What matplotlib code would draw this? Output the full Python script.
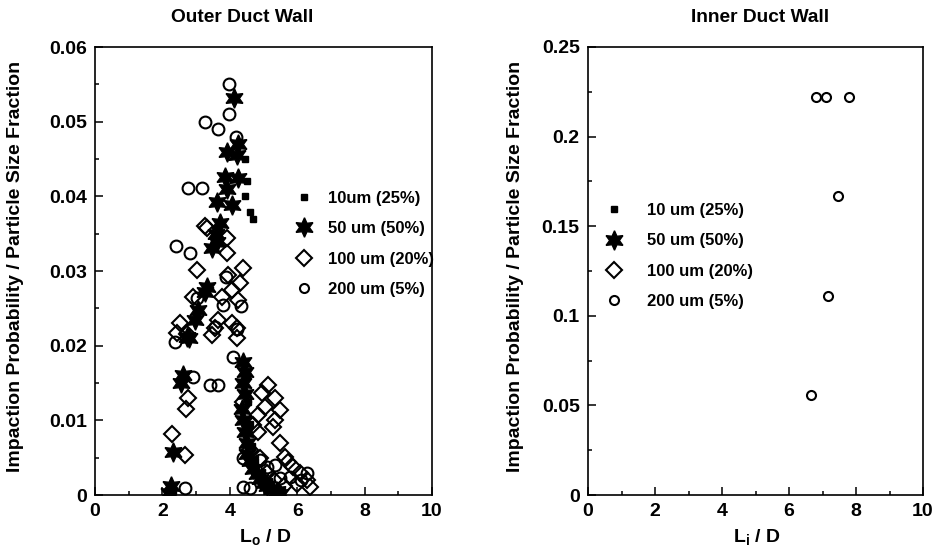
import matplotlib
matplotlib.use("Agg")
import matplotlib.pyplot as plt
from matplotlib.ticker import MultipleLocator
from matplotlib.lines import Line2D

plt.rcParams['font.family'] = ['Liberation Sans', 'DejaVu Sans']
plt.rcParams['font.weight'] = 'bold'
plt.rcParams['mathtext.fontset'] = 'custom'
plt.rcParams['mathtext.rm'] = 'Liberation Sans:bold'
plt.rcParams['mathtext.it'] = 'Liberation Sans:bold'
plt.rcParams['mathtext.bf'] = 'Liberation Sans:bold'

# ---------------- data: Outer duct wall ----------------
outer_10_x = [4.45, 4.50, 4.45, 4.60, 4.69, 4.50, 4.55, 4.60, 4.65, 4.75, 4.95, 5.15, 5.35, 5.55, 2.30]
outer_10_y = [0.0450, 0.0420, 0.0400, 0.0379, 0.0370, 0.0160, 0.0125, 0.0095, 0.0065, 0.0045,
              0.0030, 0.0018, 0.0010, 0.0005, 0.0005]

outer_50_x = [2.20, 2.25, 2.30, 2.55, 2.60, 2.73, 2.80, 2.97, 3.06, 3.26, 3.32, 3.47, 3.62, 3.60,
              3.71, 3.62, 3.92, 4.06, 3.86, 4.24, 3.92, 4.20, 4.25, 4.12,
              4.40, 4.45, 4.40, 4.45, 4.35, 4.40, 4.45, 4.50, 4.50, 4.60, 4.70, 4.80, 4.90,
              5.00, 5.10, 5.25, 5.40, 5.50]
outer_50_y = [0.0003, 0.0012, 0.0058, 0.0150, 0.0161, 0.0212, 0.0210, 0.0234, 0.0248, 0.0272,
              0.0279, 0.0331, 0.0339, 0.0350, 0.0364, 0.0392, 0.0410, 0.0388, 0.0426, 0.0425,
              0.0460, 0.0455, 0.0470, 0.0532,
              0.0178, 0.0165, 0.0150, 0.0135, 0.0115, 0.0100, 0.0085, 0.0070, 0.0055, 0.0045,
              0.0035, 0.0028, 0.0022, 0.0016, 0.0012, 0.0008, 0.0005, 0.0002]

outer_100_x = [2.28, 2.67, 2.70, 2.76, 2.43, 2.52, 2.73, 2.91, 3.03, 3.26, 3.32, 3.77, 3.65, 3.56,
               3.47, 3.92, 3.92, 3.95, 4.07, 4.07, 4.20, 4.20, 4.25, 4.30, 4.39,
               4.40, 4.70, 4.85, 4.85, 4.95, 5.04, 5.14, 5.29, 5.34, 5.34, 5.49, 5.49, 5.64,
               5.73, 5.88, 6.08, 6.29, 6.38, 4.60, 4.90, 5.10, 5.30, 5.60, 6.00]
outer_100_y = [0.0082, 0.0054, 0.0115, 0.0130, 0.0217, 0.0230, 0.0215, 0.0265, 0.0301, 0.0360,
               0.0357, 0.0265, 0.0234, 0.0224, 0.0214, 0.0344, 0.0324, 0.0295, 0.0275, 0.0230,
               0.0224, 0.0210, 0.0261, 0.0284, 0.0304,
               0.0125, 0.0094, 0.0107, 0.0084, 0.0137, 0.0118, 0.0147, 0.0091, 0.0130, 0.0100,
               0.0114, 0.0070, 0.0051, 0.0044, 0.0037, 0.0029, 0.0020, 0.0011, 0.0060, 0.0050,
               0.0030, 0.0020, 0.0012, 0.0015]

outer_200_x = [3.98, 3.98, 3.26, 3.65, 4.18, 2.76, 3.18, 2.40, 2.82, 3.90, 3.03, 3.80, 4.33, 3.56,
               4.20, 2.37, 4.10, 2.91, 3.41, 3.65, 4.40, 4.90, 5.10, 5.34, 5.49, 5.79, 6.29,
               4.40, 4.60, 2.67, 6.10]
outer_200_y = [0.0550, 0.0510, 0.0500, 0.0490, 0.0480, 0.0411, 0.0411, 0.0333, 0.0324, 0.0292,
               0.0264, 0.0254, 0.0253, 0.0225, 0.0222, 0.0205, 0.0185, 0.0158, 0.0147, 0.0147,
               0.0050, 0.0047, 0.0038, 0.0040, 0.0023, 0.0024, 0.0029, 0.0011, 0.0009, 0.0009,
               0.0020]

# ---------------- data: Inner duct wall ----------------
inner_200_x = [6.65, 7.15, 7.45, 6.80, 7.10, 7.78]
inner_200_y = [0.0556, 0.1111, 0.1667, 0.2222, 0.2222, 0.2222]

labels_left = ['10um (25%)', '50 um (50%)', '100 um (20%)', '200 um (5%)']
labels_right = ['10 um (25%)', '50 um (50%)', '100 um (20%)', '200 um (5%)']

STAR = (6, 1, 0)
sty10 = dict(marker='s', ms=4.5, color='black', ls='none')
sty50 = dict(marker=STAR, ms=14, color='black', ls='none')
sty100 = dict(marker='D', ms=8.5, mfc='none', mec='black', mew=1.5, ls='none')
sty200 = dict(marker='o', ms=8.5, mfc='none', mec='black', mew=1.5, ls='none')
sty200s = dict(marker='o', ms=6.5, mfc='none', mec='black', mew=1.5, ls='none')

fig = plt.figure(figsize=(9.38, 5.54), dpi=100)
W, H = 938, 554
axL = fig.add_axes([95 / W, (H - 495) / H, 337 / W, 448 / H])
axR = fig.add_axes([588 / W, (H - 495) / H, 335 / W, 448 / H])

axL.plot(outer_10_x, outer_10_y, **sty10)
axL.plot(outer_50_x, outer_50_y, **sty50)
axL.plot(outer_100_x, outer_100_y, **sty100)
axL.plot(outer_200_x, outer_200_y, **sty200)

axR.plot(inner_200_x, inner_200_y, **sty200s)

for ax, ymax, ymaj in ((axL, 0.06, 0.01), (axR, 0.25, 0.05)):
    ax.set_xlim(0, 10)
    ax.set_ylim(0, ymax)
    ax.xaxis.set_major_locator(MultipleLocator(2))
    ax.xaxis.set_minor_locator(MultipleLocator(1))
    ax.yaxis.set_major_locator(MultipleLocator(ymaj))
    ax.yaxis.set_minor_locator(MultipleLocator(ymaj / 2))
    ax.tick_params(which='both', direction='in', top=False, right=False, width=1.1)
    ax.tick_params(which='major', length=6, labelsize=14, pad=6)
    ax.tick_params(which='minor', length=3)
    for sp in ax.spines.values():
        sp.set_linewidth(1.2)
    for lab in ax.get_xticklabels() + ax.get_yticklabels():
        lab.set_fontweight('bold')

axL.yaxis.set_major_formatter(plt.FuncFormatter(lambda v, p: '0' if abs(v) < 1e-12 else f'{v:.2f}'))
axR.yaxis.set_major_formatter(plt.FuncFormatter(lambda v, p: '0' if abs(v) < 1e-12 else f'{v:g}'))

# legend proxy handles (legend symbols)
def proxies():
    return [Line2D([], [], **sty10), Line2D([], [], **sty50),
            Line2D([], [], **sty100), Line2D([], [], **sty200s)]

legkw = dict(frameon=False, handlelength=1.0, labelspacing=0.92, borderpad=0,
             borderaxespad=0, numpoints=1, prop={'weight': 'bold', 'size': 12})
axL.legend(proxies(), labels_left, loc='upper left', handletextpad=0.9,
           bbox_to_anchor=((296 - 95) / 337, (495 - 191) / 448), **legkw)
axR.legend(proxies(), labels_right, loc='upper left', handletextpad=1.45,
           bbox_to_anchor=((606 - 588) / 335, (495 - 203) / 448), **legkw)

fig.text(242 / W, 1 - 17 / H, 'Outer Duct Wall', ha='center', va='center', fontsize=13.8, fontweight='bold')
fig.text(760 / W, 1 - 17 / H, 'Inner Duct Wall', ha='center', va='center', fontsize=13.8, fontweight='bold')

ylab = 'Impaction Probability / Particle Size Fraction'
fig.text(16 / W, 1 - 266 / H, ylab, rotation=90, ha='center', va='center', fontsize=14, fontweight='bold')
fig.text(516 / W, 1 - 266 / H, ylab, rotation=90, ha='center', va='center', fontsize=14, fontweight='bold')

fig.text(265 / W, 1 - 537 / H, r'L$_\mathregular{o}$ / D', ha='center', va='center', fontsize=14, fontweight='bold')
fig.text(757 / W, 1 - 537 / H, r'L$_\mathregular{i}$ / D', ha='center', va='center', fontsize=14, fontweight='bold')

fig.savefig('out.png', dpi=100)
